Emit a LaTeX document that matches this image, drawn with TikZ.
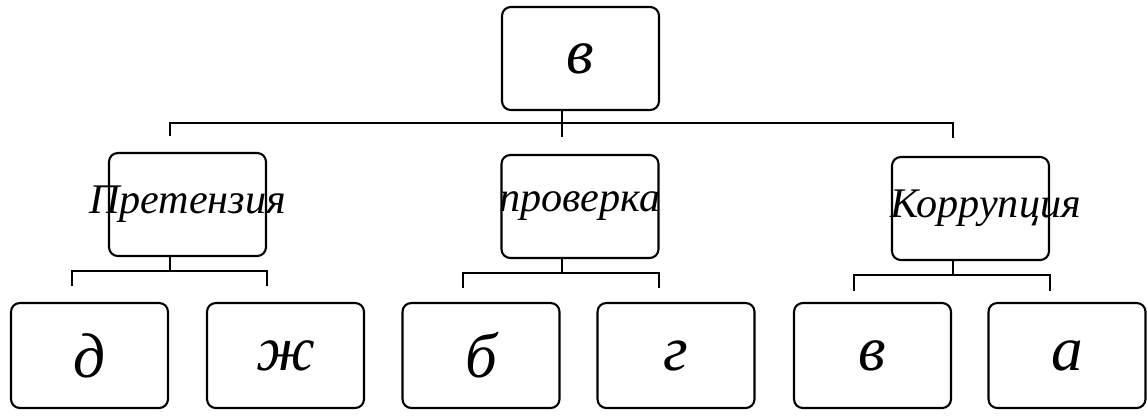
\documentclass[tikz,border=0pt]{standalone}
\usepackage{fontspec}
\setmainfont{Liberation Serif}
\usepackage{tikz}
\usetikzlibrary{calc}

\begin{document}
\begin{tikzpicture}
[x=0.02cm,y=-0.02cm,line width=1.2pt]
\tikzset{
	box/.style = {draw, rounded corners=5pt, minimum width=3.14cm, minimum height=2.06cm, inner sep=0},
	leaf/.style = {box, minimum height=2.1cm, font=\fontsize{36}{40}\selectfont\itshape},
	word/.style = {font=\fontsize{24}{28}\selectfont\itshape}
}
\useasboundingbox (0,0) rectangle (1147,416);

\node(top) [box, font=\fontsize{36}{40}\selectfont\itshape] at (580.5,58.5) {в};

\node(pre) [box, label={[word]center:Претензия}] at (187.5,204.5) {};
\node(pro) [box, label={[word]center:проверка}] at (580,206.5) {};
\node(kor) [box, label={[word,xshift=0.3cm]center:Коррупция}] at (970.5,208.5) {};

\node(l1) [leaf] at (89.5,355.5) {д};
\node(l2) [leaf] at (285.5,355.5) {ж};
\node(l3) [leaf] at (481,355.5) {б};
\node(l4) [leaf] at (676,355.5) {г};
\node(l5) [leaf] at (872.5,355.5) {в};
\node(l6) [leaf] at (1067,355.5) {а};

% upper bus
\coordinate (j1) at (562,123);
\coordinate (d1) at (170,136);
\coordinate (d2) at (562,137);
\coordinate (d3) at (953,138);
\draw (top.south -| j1) -- (j1);
\draw (d1) |- (j1) -| (d3);
\draw (j1) -- (d2);

% lower buses
\coordinate (j2) at (170,271);
\coordinate (e1) at (72,286);
\coordinate (e2) at (267,286);
\draw (pre.south -| j2) -- (j2);
\draw (e1) |- (j2) -| (e2);

\coordinate (j3) at (562,273);
\coordinate (e3) at (463,288);
\coordinate (e4) at (659,288);
\draw (pro.south -| j3) -- (j3);
\draw (e3) |- (j3) -| (e4);

\coordinate (j4) at (953,275);
\coordinate (e5) at (854,291);
\coordinate (e6) at (1050,291);
\draw (kor.south -| j4) -- (j4);
\draw (e5) |- (j4) -| (e6);

\end{tikzpicture}
\end{document}
